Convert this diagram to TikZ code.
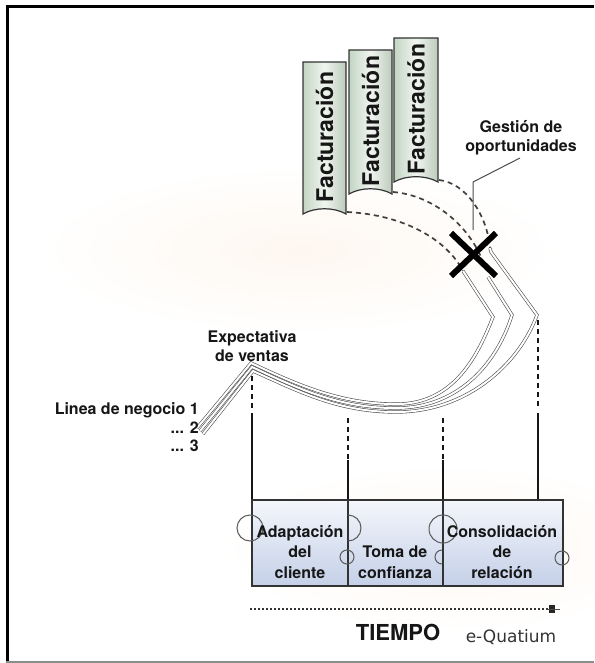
\documentclass[tikz,border=0pt]{standalone}
\usepackage{fontspec}
\setmainfont{TeX Gyre Heros}
\newfontfamily\dvfont{DejaVu Sans}
\definecolor{bannerL}{HTML}{C3D5C3}
\definecolor{bannerM}{HTML}{F1F5F0}
\definecolor{bannerR}{HTML}{BCCBBC}
\definecolor{boxtop}{HTML}{F4F6FB}
\definecolor{boxbot}{HTML}{C4D0E8}
\definecolor{cream}{HTML}{FEF7F0}
\definecolor{ink}{HTML}{161616}
\begin{document}
\begin{tikzpicture}[x=1pt,y=-1pt,
  lbl/.style={font=\bfseries\fontsize{16}{19}\selectfont, text=ink, align=center, inner sep=0pt},
  boxlbl/.style={font=\bfseries\fontsize{16}{20.5}\selectfont, text=ink, align=center, inner sep=0pt},
  facttext/.style={font=\bfseries\fontsize{23}{25}\selectfont, text=ink, inner sep=0pt},
  banner/.style={draw=black!80, line width=1.2pt, left color=bannerL, right color=bannerR, middle color=bannerM},
  dline/.style={draw=black!70, line width=0.6pt, double=white, double distance=2pt},
  dcurve/.style={draw=black!75, line width=1.7pt, dash pattern=on 5pt off 4pt},
  vdash/.style={draw=ink, line width=1.8pt, dash pattern=on 5pt off 4pt},
  vsolid/.style={draw=ink, line width=1.8pt},
  circ/.style={draw=black!65, line width=1pt},
  boxline/.style={draw=black!80, line width=1.5pt}
]
\useasboundingbox (0,0) rectangle (594,663);
\fill[white] (0,0) rectangle (594,663);
% faint tints
\shade[inner color=cream, outer color=white] (300,250) ellipse (260 and 85);
\shade[inner color=cream, outer color=white] (450,548) ellipse (230 and 85);

% frame
\draw[line width=3pt, black] (6,6.5) -- (594,6.5);
\draw[line width=3pt, black] (7.5,5) -- (7.5,661);
\draw[line width=2pt, black!45] (6,661.5) -- (594,661.5);

% banners
\foreach \l/\r/\t/\b/\n in {303/346/62/214/f1, 349/392/50/194/f2, 394/438/38/182/f3} {
  \path[banner] (\l,\t) -- (\r,\t) -- (\r,\b) .. controls ({\r-12},{\b-7}) and ({\l+12},{\b-7}) .. (\l,\b) -- cycle;
  \node[facttext, rotate=90] (\n) at ({(\l+\r)/2}, {(\t+\b)/2-1}) {Facturación};
}

% key points
\coordinate (b1) at (347,212);
\coordinate (b2) at (393,192);
\coordinate (b3) at (439,180);
\coordinate (s1) at (463,271);
\coordinate (s2) at (486,270);
\coordinate (s3) at (490,248);

% dashed curves from banners
\draw[dcurve] (b1) .. controls (405,215) and (447,240) .. (s1);
\draw[dcurve] (b2) .. controls (432,195) and (472,225) .. (s2);
\draw[dcurve] (b3) .. controls (466,183) and (487,215) .. (s3);

% vertical connectors
\coordinate (v1a) at (252,376); \coordinate (v1b) at (252,409); \coordinate (v1c) at (252,413);
\coordinate (v2a) at (348,418); \coordinate (v2b) at (348,459);
\coordinate (v3a) at (443,418); \coordinate (v3b) at (443,459);
\coordinate (v4a) at (538,320); \coordinate (v4b) at (538,409); \coordinate (v4c) at (538,413);
\draw[vdash] (v1a) -- (v1b);
\draw[vdash] (v2a) -- (v2b);
\draw[vdash] (v3a) -- (v3b);
\draw[vdash] (v4a) -- (v4b);

% box
\shade[top color=boxtop, bottom color=boxbot] (252,500) rectangle (563,586);
\draw[vsolid] (v1c) -- (252,500);
\draw[vsolid] (v4c) -- (538,500);
\draw[vsolid] (348,460) -- (348,500);
\draw[vsolid] (443,460) -- (443,500);
\draw[boxline] (252,500) rectangle (563,586);
\draw[boxline] (348,500) -- (348,586);
\draw[boxline] (443,500) -- (443,586);

% double lines (lineas de negocio)
\draw[dline] (s3) -- (491,252) -- (537,315) .. controls (520,362) and (470,410) .. (400,412)
   .. controls (340,413) and (300,392) .. (253,371) -- (203,434);
\draw[dline] (488,277) -- (512,315) .. controls (498,360) and (462,406) .. (400,408)
   .. controls (341,409) and (299,389) .. (252,367) -- (200,431);
\draw[dline] (s1) -- (493,317) .. controls (478,355) and (455,402) .. (400,404)
   .. controls (342,405) and (298,385) .. (251,363) -- (197,428);

% X mark
\coordinate (xc) at (473.5,254.5);
\draw[line width=6pt, black] (451,233) -- (496,276);
\draw[line width=6pt, black] (496,233) -- (451,276);

% Gestion label and leader
\node[lbl] (gest) at (521,138) {Gestión de\\oportunidades};
\coordinate (gl) at (473,182);
\draw[black!70, line width=1pt] (520,158) -- (gl) -- (473,230);

% Expectativa
\node[lbl] (expec) at (252,346) {Expectativa\\de ventas};

% lineas
\node[lbl, anchor=east] (ln1) at (199,410) {Linea de negocio 1};
\node[lbl, anchor=east] (ln2) at (199,428) {... 2};
\node[lbl, anchor=east] (ln3) at (199,446) {... 3};

% circles
\draw[circ] (250,528) circle (13pt);
\draw[circ] (348,515) arc[start angle=90, end angle=-90, radius=13pt];
\draw[circ] (347,557) circle (7pt);
\draw[circ] (443,529) circle (14pt);
\draw[circ] (442,550) arc[start angle=90, end angle=270, radius=7pt];
\draw[circ] (562,558) circle (7pt);

% box texts
\node[boxlbl] (c1) at (300,552) {Adaptación\\del\\cliente};
\node[boxlbl] (c2) at (395,562) {Toma de\\confianza};
\node[boxlbl] (c3) at (502,552) {Consolidación\\de\\relación};

% timeline
\coordinate (t0) at (250,609);
\coordinate (t1) at (548,609);
\draw[line width=2.2pt, black!80, dash pattern=on 2pt off 2pt] (t0) -- (t1);
\fill[black!85] (549,605) rectangle (555,613);
\draw[black!70, line width=1pt] (546,609) -- (560,609);

\node[font=\bfseries\fontsize{22}{24}\selectfont, text=ink, inner sep=0pt] (tiempo) at (398,632) {TIEMPO};
\node[font=\dvfont\fontsize{17}{19}\selectfont, text=black!80, inner sep=0pt] (eq) at (511,637) {e-Quatium};
\end{tikzpicture}
\end{document}
